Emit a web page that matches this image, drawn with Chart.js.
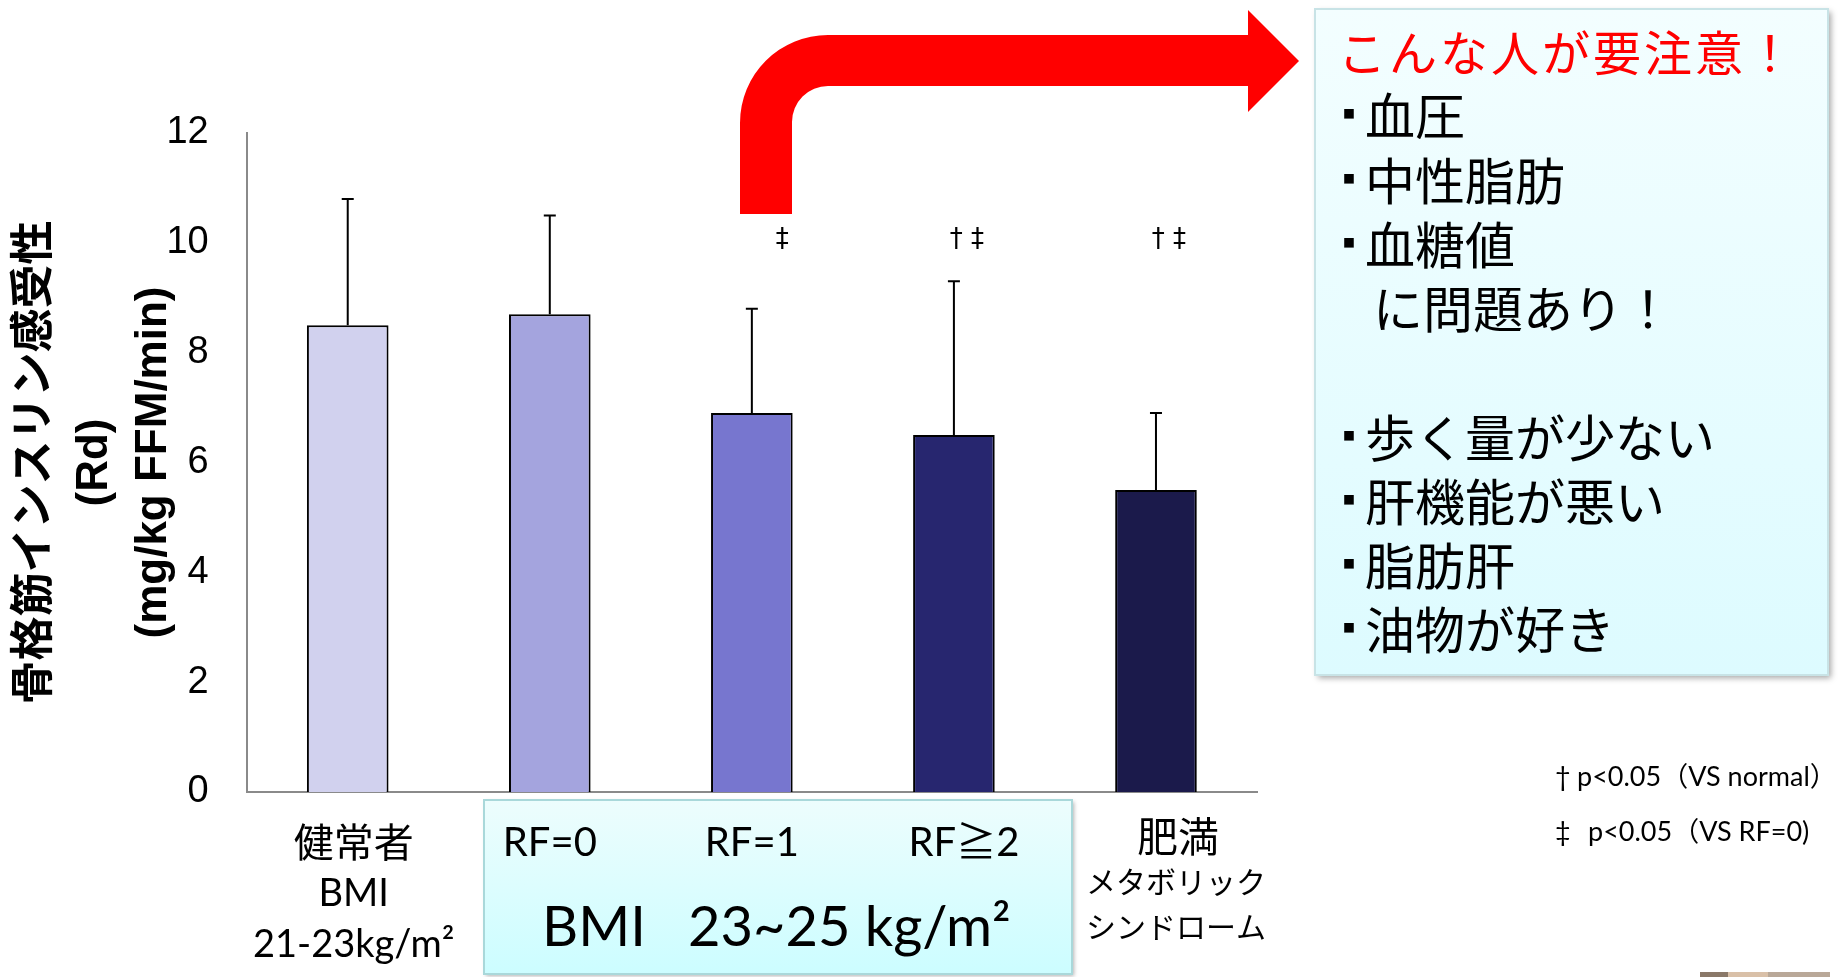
<!DOCTYPE html>
<html><head><meta charset="utf-8">
<script src="https://cdn.jsdelivr.net/npm/chart.js@4.4.1/dist/chart.umd.min.js"></script>
<style>html,body{margin:0;padding:0;background:#fff;overflow:hidden}canvas{display:block}</style>
</head><body>
<canvas id="c" width="1839" height="977"></canvas>
<script>
// ---- data ----
const categories = ['健常者', 'RF=0', 'RF=1', 'RF≧2', '肥満'];
const meanValues = [8.5, 8.7, 6.9, 6.5, 5.5];
const errorTops = [10.8, 10.5, 8.8, 9.3, 6.9];
const significance = ['', '', '‡', '† ‡', '† ‡'];
const yTicks = [0, 2, 4, 6, 8, 10, 12];
const barColors = ['#D1D1EE', '#A4A4DE', '#7776CF', '#27266F', '#1B1A4B'];
const subLabelsFirst = ['BMI', '21-23kg/m²'];
const subLabelsLast = ['メタボリック', 'シンドローム'];
const bmiBoxText = ['BMI', '23~25 kg/m²'];
const yTitle = ['骨格筋インスリン感受性', '(Rd)', '(mg/kg FFM/min)'];
const boxTitle = 'こんな人が要注意！';
const boxItemsA = ['血圧', '中性脂肪', '血糖値'];
const boxItemsAEnd = 'に問題あり！';
const boxItemsB = ['歩く量が少ない', '肝機能が悪い', '脂肪肝', '油物が好き'];
const notes = [['†', 'p<0.05（VS normal）'], ['‡', 'p<0.05（VS RF=0)']];

const LAT = "Lato, 'Noto Sans CJK JP', sans-serif";
const CJK = "'Noto Sans CJK JP', sans-serif";

const overlay = {
  id: 'overlay',
  beforeDraw(chart) {
    const ctx = chart.ctx;
    ctx.save(); ctx.fillStyle = '#fff'; ctx.fillRect(0, 0, chart.width, chart.height); ctx.restore();
  },
  afterDatasetsDraw(chart) {
    const ctx = chart.ctx, y = chart.scales.y, meta = chart.getDatasetMeta(0);
    ctx.save();
    ctx.strokeStyle = '#000'; ctx.lineWidth = 2;
    meta.data.forEach((bar, i) => {
      const yt = y.getPixelForValue(errorTops[i]);
      const yb = y.getPixelForValue(meanValues[i]);
      ctx.beginPath();
      ctx.moveTo(bar.x, yb); ctx.lineTo(bar.x, yt);
      ctx.moveTo(bar.x - 6, yt); ctx.lineTo(bar.x + 6, yt);
      ctx.stroke();
      if (significance[i]) {
        ctx.fillStyle = '#000';
        ctx.font = "26px 'DejaVu Sans'";
        ctx.textAlign = 'right'; ctx.textBaseline = 'middle';
        ctx.fillText(significance[i], bar.x + (significance[i].length === 1 ? 37 : 30), y.getPixelForValue(10.05));
      }
    });
    ctx.restore();
  },
  afterDraw(chart) {
    const ctx = chart.ctx, x = chart.scales.x;
    ctx.save();
    // bottom BMI box
    ctx.save();
    ctx.shadowColor = 'rgba(0,0,0,0.3)'; ctx.shadowBlur = 4; ctx.shadowOffsetX = 2; ctx.shadowOffsetY = 2;
    let g = ctx.createLinearGradient(0, 800, 0, 974);
    g.addColorStop(0, '#EDFDFD'); g.addColorStop(1, '#CCFDFF');
    ctx.fillStyle = g; ctx.fillRect(484, 800, 588, 174);
    ctx.restore();
    ctx.strokeStyle = '#A9D8DA'; ctx.lineWidth = 2; ctx.strokeRect(484, 800, 588, 174);

    // x labels
    ctx.fillStyle = '#000'; ctx.textBaseline = 'middle'; ctx.textAlign = 'center';
    categories.forEach((c, i) => {
      const cx = x.getPixelForValue(i);
      if (i === 0) {
        ctx.font = '40px ' + CJK; ctx.fillText(c, cx + 6, 842);
        ctx.font = '38px ' + LAT;
        ctx.fillText(subLabelsFirst[0], cx + 6, 894);
        ctx.fillText(subLabelsFirst[1], cx + 6, 945);
      } else if (i === categories.length - 1) {
        ctx.font = '41px ' + CJK; ctx.fillText(c, cx + 22, 836);
        ctx.font = '30px ' + CJK;
        ctx.fillText(subLabelsLast[0], cx + 20, 882);
        ctx.fillText(subLabelsLast[1], cx + 20, 927);
      } else {
        ctx.font = '40px ' + LAT; ctx.fillText(c, cx + (i === 3 ? 10 : 0), 843);
      }
    });
    ctx.textAlign = 'left'; ctx.font = '56px ' + LAT;
    ctx.fillText(bmiBoxText[0], 542, 928);
    ctx.fillText(bmiBoxText[1], 688, 928);

    // right box
    ctx.save();
    ctx.shadowColor = 'rgba(0,0,0,0.35)'; ctx.shadowBlur = 6; ctx.shadowOffsetX = 3; ctx.shadowOffsetY = 3;
    g = ctx.createLinearGradient(0, 9, 0, 675);
    g.addColorStop(0, '#F3FEFF'); g.addColorStop(1, '#DDFBFF');
    ctx.fillStyle = g; ctx.fillRect(1315, 9, 513, 666);
    ctx.restore();
    ctx.strokeStyle = '#C8E3E6'; ctx.lineWidth = 2; ctx.strokeRect(1315, 9, 513, 666);

    ctx.textAlign = 'left'; ctx.textBaseline = 'middle';
    ctx.fillStyle = '#FF0000'; ctx.font = '48px ' + CJK;
    ctx.save();
    try { ctx.letterSpacing = '3px'; } catch (e) {}
    ctx.fillText(boxTitle, 1338, 53);
    ctx.restore();
    ctx.fillStyle = '#000';
    const drawItem = (t, yy) => {
      ctx.font = '12px ' + CJK; ctx.fillText('■', 1343, yy - 2);
      ctx.font = '50px ' + CJK; ctx.fillText(t, 1365, yy);
    };
    const ysA = [116, 181, 245];
    boxItemsA.forEach((t, i) => drawItem(t, ysA[i]));
    ctx.font = '50px ' + CJK; ctx.fillText(boxItemsAEnd, 1373, 309);
    const ysB = [438, 502, 566, 630];
    boxItemsB.forEach((t, i) => drawItem(t, ysB[i]));

    // red arrow
    ctx.fillStyle = '#FF0000';
    ctx.beginPath();
    ctx.moveTo(740, 214);
    ctx.lineTo(740, 123);
    ctx.arcTo(740, 35, 828, 35, 88);
    ctx.lineTo(1248, 35);
    ctx.lineTo(1248, 10);
    ctx.lineTo(1299, 61);
    ctx.lineTo(1248, 112);
    ctx.lineTo(1248, 86);
    ctx.lineTo(828, 86);
    ctx.arcTo(792, 86, 792, 122, 36);
    ctx.lineTo(792, 214);
    ctx.closePath();
    ctx.fill();

    // notes
    ctx.fillStyle = '#000'; ctx.font = '27px ' + LAT;
    ctx.fillText(notes[0][0], 1555, 777);
    ctx.fillText(notes[0][1], 1577, 777);
    ctx.fillText(notes[1][0], 1555, 832);
    ctx.fillText(notes[1][1], 1588, 832);

    // small photo fragment at bottom right
    ctx.fillStyle = '#8a7868'; ctx.fillRect(1700, 972, 28, 5);
    ctx.fillStyle = '#d9c0a8'; ctx.fillRect(1728, 972, 40, 5);
    ctx.fillStyle = '#b9a898'; ctx.fillRect(1768, 972, 62, 5);
    ctx.restore();
  }
};

new Chart(document.getElementById('c'), {
  type: 'bar',
  data: {
    labels: categories,
    datasets: [{
      data: meanValues,
      backgroundColor: barColors,
      borderColor: '#000',
      borderWidth: 2,
      categoryPercentage: 1,
      barPercentage: 0.404
    }]
  },
  options: {
    responsive: false,
    animation: false,
    devicePixelRatio: 1,
    layout: { padding: { top: 133, right: 582, left: 0, bottom: 0 } },
    plugins: { legend: { display: false }, tooltip: { enabled: false } },
    scales: {
      x: {
        grid: { display: false },
        ticks: { display: false },
        border: { display: true, color: '#8a8a8a', width: 2 },
        afterFit: s => { s.height = 185; }
      },
      y: {
        min: 0, max: 12,
        afterBuildTicks: s => { s.ticks = yTicks.map(v => ({ value: v })); },
        grid: { display: false, drawTicks: false },
        border: { display: true, color: '#8a8a8a', width: 2 },
        ticks: { color: '#000', padding: 38, font: { family: "'Liberation Sans', Arial", size: 38 } },
        title: {
          display: true, text: yTitle, color: '#000',
          font: { family: "'Liberation Sans', 'Noto Sans CJK JP', sans-serif", size: 44, weight: 'bold', lineHeight: 1.34 },
          padding: { top: 6, bottom: 0 }
        },
        afterFit: s => { s.width = 246.7; }
      }
    }
  },
  plugins: [overlay]
});
</script>
</body></html>
